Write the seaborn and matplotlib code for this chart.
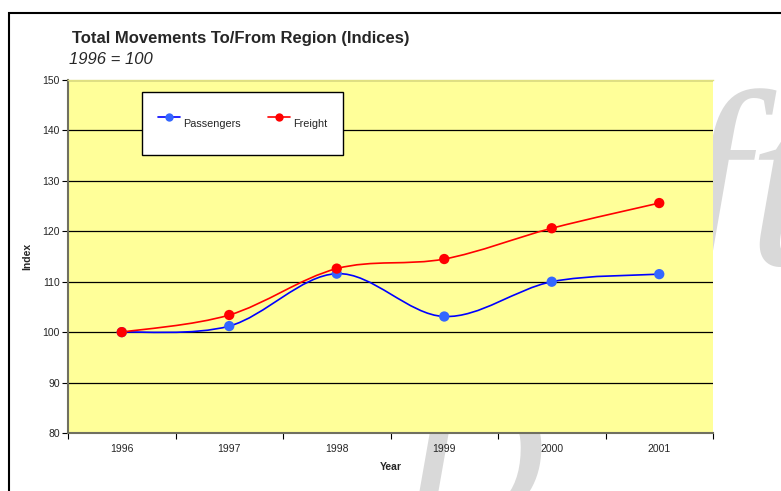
import numpy as np
import pandas as pd
import seaborn as sns
import matplotlib.pyplot as plt
from matplotlib.path import Path
from matplotlib.patches import PathPatch, Rectangle
from matplotlib.lines import Line2D

years = ["1996", "1997", "1998", "1999", "2000", "2001"]
passengers = [100.0, 101.2, 111.6, 103.1, 110.0, 111.5]
freight = [100.0, 103.4, 112.6, 114.5, 120.6, 125.6]
y_ticks = [80, 90, 100, 110, 120, 130, 140, 150]

sns.set_theme(style="ticks")
plt.rcParams['font.family'] = ['Liberation Sans', 'DejaVu Sans']

pass_line, pass_mark = "#0000FF", "#3366FF"
frt_line, frt_mark = "#FF0000", "#FF0000"
W, H = 781, 491


def smooth_path(xs, ys):
    # catmull-rom style bezier, like excel "smoothed line"
    pts = np.column_stack([xs, ys]).astype(float)
    ext = np.vstack([pts[0], pts, pts[-1]])
    verts = [tuple(pts[0])]
    codes = [Path.MOVETO]
    for i in range(len(pts) - 1):
        p0, p1, p2, p3 = ext[i], ext[i + 1], ext[i + 2], ext[i + 3]
        c1 = p1 + (p2 - p0) / 6.0
        c2 = p2 - (p3 - p1) / 6.0
        verts += [tuple(c1), tuple(c2), tuple(p2)]
        codes += [Path.CURVE4] * 3
    return Path(verts, codes)


fig = plt.figure(figsize=(W / 100, H / 100), dpi=100)
ax = fig.add_axes([68 / W, (H - 433) / H, 645 / W, 353 / H])
ax.set_facecolor("#FFFF99")

# "Draft" watermark, sits behind the plot area
wm = dict(color="#D9D9D9", family=["Liberation Serif", "DejaVu Serif"], style="italic",
          zorder=-1, va="baseline")
fig.text(398 / W, (H - 525) / H, "D", fontsize=145, ha="left", **wm)
fig.text(818 / W, (H - 265) / H, "raft", fontsize=180, ha="right", **wm)

x = np.arange(len(years))
df = pd.DataFrame({"x": np.concatenate([x, x]),
                   "value": passengers + freight,
                   "series": ["Passengers"] * len(x) + ["Freight"] * len(x)})

for vals, col in [(passengers, pass_line), (freight, frt_line)]:
    ax.add_patch(PathPatch(smooth_path(x, vals), fill=False, edgecolor=col, lw=1.2, zorder=3))

sns.scatterplot(data=df, x="x", y="value", hue="series", ax=ax, s=55, linewidth=0,
                palette={"Passengers": pass_mark, "Freight": frt_mark}, zorder=4, legend=False)

ax.set_xlim(-0.5, len(years) - 0.5)
ax.set_ylim(80, 150)
ax.set_yticks(y_ticks)
ax.yaxis.grid(True, color="black", lw=0.9)
ax.set_axisbelow(True)

ax.set_xticks(np.arange(-0.5, len(years), 1.0))
ax.set_xticklabels([])
ax.set_xticks(x, minor=True)
ax.set_xticklabels(years, minor=True)
ax.tick_params(axis="x", which="minor", length=0, pad=8, labelsize=7.5)
ax.tick_params(axis="x", which="major", length=4, width=0.8, color="black")
ax.tick_params(axis="y", length=4, width=0.8, color="black", labelsize=7.5, pad=2)

for s in ["left", "bottom"]:
    ax.spines[s].set_color("#707060")
    ax.spines[s].set_linewidth(1.5)
ax.spines["top"].set_color("#E0E080")
ax.spines["top"].set_linewidth(1.0)
ax.spines["right"].set_visible(False)

ax.set_xlabel("Year", fontsize=7.5, fontweight="bold", labelpad=6)
ax.set_ylabel("Index", fontsize=7.5, fontweight="bold", labelpad=7)

handles = [Line2D([], [], color=pass_line, marker="o", markerfacecolor=pass_mark,
                  markeredgewidth=0, markersize=6, lw=1.2),
           Line2D([], [], color=frt_line, marker="o", markerfacecolor=frt_mark,
                  markeredgewidth=0, markersize=6, lw=1.2)]
leg = ax.legend(handles, ["Passengers", "Freight"], ncol=2, fontsize=7.8,
                loc="upper left", bbox_to_anchor=(74 / 645, 1 - 12 / 353),
                frameon=True, fancybox=False, edgecolor="black", framealpha=1,
                borderpad=1.5, handlelength=2.0, handleheight=4.0, columnspacing=2.5,
                handletextpad=0.3, borderaxespad=0)
leg.get_frame().set_linewidth(1.0)

fig.text(72 / W, 1 - 43 / H, "Total Movements To/From Region (Indices)",
         fontsize=12, fontweight="bold", ha="left", va="baseline")
fig.text(69 / W, 1 - 64 / H, "1996 = 100", fontsize=12, style="italic",
         ha="left", va="baseline")

fig.patches.append(Rectangle((9 / W, -0.05), 1.2, 1 - 13 / H + 0.05,
                             transform=fig.transFigure, fill=False,
                             edgecolor="black", lw=1.5, zorder=5))

fig.savefig("out.png", dpi=100)
